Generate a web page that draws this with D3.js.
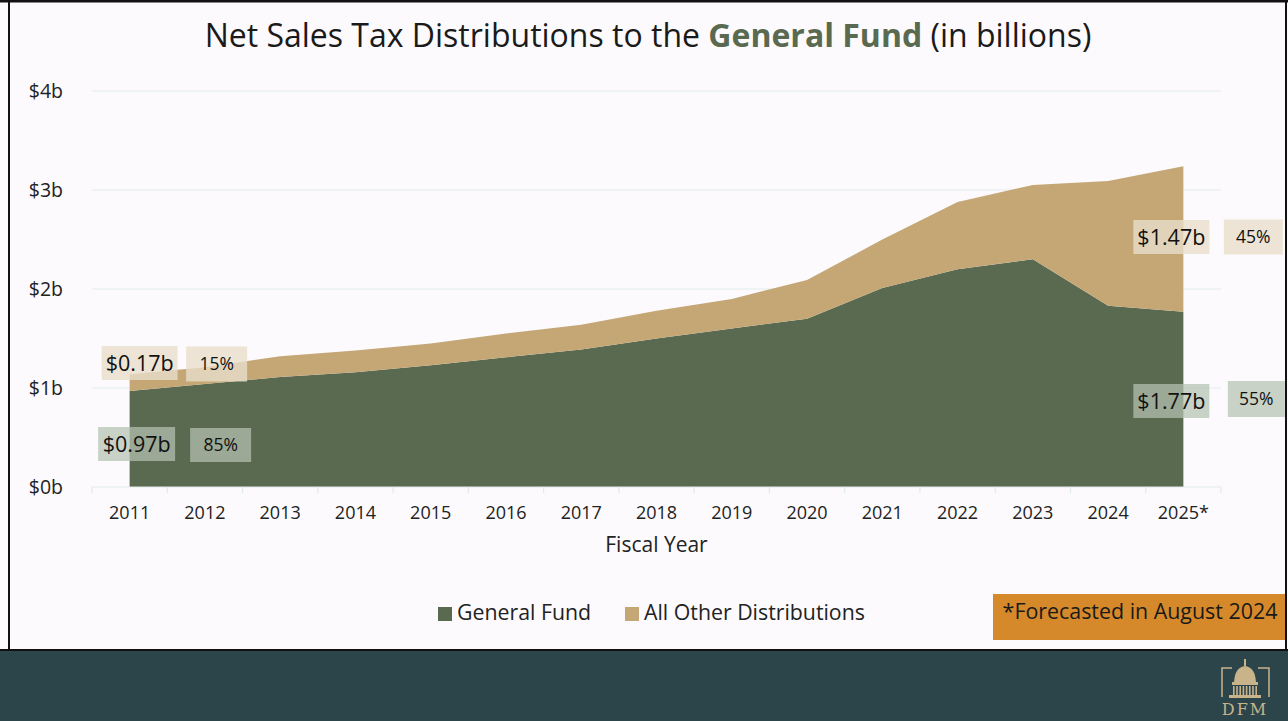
<!DOCTYPE html>
<html>
<head>
<meta charset="utf-8">
<script src="https://cdn.jsdelivr.net/npm/d3@7"></script>
<style>
  html, body { margin: 0; padding: 0; background: #ffffff; }
  svg { display: block; font-family: "Open Sans", "Noto Sans", sans-serif; }
</style>
</head>
<body>
<svg id="chart" width="1288" height="721"></svg>
<script>
// ---- data ----
const years = ["2011","2012","2013","2014","2015","2016","2017","2018","2019","2020","2021","2022","2023","2024","2025*"];
const generalFund = [0.97, 1.04, 1.11, 1.16, 1.23, 1.31, 1.39, 1.50, 1.60, 1.70, 2.01, 2.20, 2.30, 1.83, 1.77];
const otherDist   = [0.17, 0.17, 0.21, 0.22, 0.22, 0.24, 0.25, 0.28, 0.30, 0.39, 0.49, 0.68, 0.75, 1.26, 1.47];
const yTicks = [0, 1, 2, 3, 4];
const yTickLabels = ["$0b", "$1b", "$2b", "$3b", "$4b"];
const seriesNames = ["General Fund", "All Other Distributions"];
const seriesColors = ["#5a6a50", "#c4a775"];
const labelTexts = {
  startOther: "$0.17b", startOtherPct: "15%",
  startGF: "$0.97b", startGFPct: "85%",
  endOther: "$1.47b", endOtherPct: "45%",
  endGF: "$1.77b", endGFPct: "55%"
};

// ---- layout ----
const W = 1288, H = 721;
const svg = d3.select("#chart");
const plot = { left: 92, right: 1221, top: 91, bottom: 487 };

svg.append("rect").attr("x", 0).attr("y", 0).attr("width", W).attr("height", H).attr("fill", "#fcfafd");

const x = d3.scaleBand().domain(years).range([plot.left, plot.right]).paddingInner(0).paddingOuter(0);
const xc = d => x(d) + x.bandwidth() / 2;
const y = d3.scaleLinear().domain([0, 4]).range([plot.bottom, plot.top]);

// gridlines
svg.append("g").selectAll("line").data(yTicks.filter(t => t > 0)).join("line")
  .attr("x1", plot.left).attr("x2", plot.right)
  .attr("y1", d => y(d)).attr("y2", d => y(d))
  .attr("stroke", "#e1ecec").attr("stroke-width", 1.2);

// stacked areas
const rows = years.map((yr, i) => ({ year: yr, gf: generalFund[i], other: otherDist[i] }));
const stack = d3.stack().keys(["gf", "other"]);
const stacked = stack(rows);
const area = d3.area()
  .x(d => xc(d.data.year))
  .y0(d => y(d[0]))
  .y1(d => y(d[1]))
  .curve(d3.curveLinear);
svg.append("g").selectAll("path").data(stacked).join("path")
  .attr("d", area)
  .attr("fill", (d, i) => seriesColors[i]);

// x axis
const gx = svg.append("g").attr("transform", `translate(0,${plot.bottom})`);
gx.append("line").attr("x1", plot.left).attr("x2", plot.right).attr("y1", 0).attr("y2", 0)
  .attr("stroke", "#dfeaea").attr("stroke-width", 1.2);
const edges = years.map(d => x(d)).concat([plot.right]);
gx.selectAll("line.tk").data(edges).join("line").attr("class", "tk")
  .attr("x1", d => d).attr("x2", d => d).attr("y1", 0).attr("y2", 6)
  .attr("stroke", "#dfeaea").attr("stroke-width", 1.2);
gx.selectAll("text.xl").data(years).join("text").attr("class", "xl")
  .attr("x", d => xc(d)).attr("y", 26).attr("dy", "0.35em")
  .attr("text-anchor", "middle").attr("font-size", 18).attr("fill", "#222")
  .text(d => d);

svg.append("text").attr("x", (plot.left + plot.right) / 2).attr("y", 545).attr("dy", "0.35em")
  .attr("text-anchor", "middle").attr("font-size", 21).attr("fill", "#222").text("Fiscal Year");

// y axis labels
svg.append("g").selectAll("text").data(yTicks).join("text")
  .attr("x", 63).attr("y", d => y(d)).attr("dy", "0.35em")
  .attr("text-anchor", "end").attr("font-size", 19.5).attr("fill", "#222")
  .text((d, i) => yTickLabels[i]);

// title
const title = svg.append("text").attr("x", 648).attr("y", 36).attr("dy", "0.35em")
  .attr("text-anchor", "middle").attr("font-size", 32).attr("fill", "#1a1a1a");
title.append("tspan").text("Net Sales Tax Distributions to the ");
title.append("tspan").attr("font-weight", "bold").attr("fill", "#5a6a50").text("General Fund");
title.append("tspan").text(" (in billions)");

// value label boxes
function labelBox(cx, cy, w, h, txt, kind, fs) {
  const g = svg.append("g");
  g.append("rect").attr("x", cx - w / 2).attr("y", cy - h / 2).attr("width", w).attr("height", h)
    .attr("fill", kind === "other" ? "rgb(232,222,202)" : "rgb(180,194,177)")
    .attr("fill-opacity", kind === "other" ? 0.8 : 0.72);
  g.append("text").attr("x", cx).attr("y", cy).attr("dy", "0.36em")
    .attr("text-anchor", "middle").attr("font-size", fs).attr("fill", "#111").text(txt);
}
const first = years[0], last = years[years.length - 1];
labelBox(xc(first) + 10, 363, 76, 34, labelTexts.startOther, "other", 21.5);
labelBox(xc(first) + 87, 364, 61, 35, labelTexts.startOtherPct, "other", 17.5);
labelBox(xc(first) + 7, 444, 77, 34, labelTexts.startGF, "gf", 21.5);
labelBox(xc(first) + 91, 445, 61, 34, labelTexts.startGFPct, "gf", 17.5);
labelBox(xc(last) - 12, 237, 76, 34, labelTexts.endOther, "other", 21.5);
labelBox(xc(last) + 70, 237, 59, 35, labelTexts.endOtherPct, "other", 17.5);
labelBox(xc(last) - 12, 401, 76, 34, labelTexts.endGF, "gf", 21.5);
labelBox(xc(last) + 73, 399, 57, 36, labelTexts.endGFPct, "gf", 17.5);

// legend
const legend = svg.append("g");
const legX = [438, 625];
seriesNames.forEach((name, i) => {
  legend.append("rect").attr("x", legX[i]).attr("y", 607).attr("width", 14).attr("height", 14).attr("fill", seriesColors[i]);
  legend.append("text").attr("x", legX[i] + 19).attr("y", 613).attr("dy", "0.35em")
    .attr("font-size", 21.3).attr("fill", "#222").text(name);
});

// forecast note
svg.append("rect").attr("x", 993).attr("y", 594).attr("width", 293).attr("height", 46).attr("fill", "#d6892a");
svg.append("text").attr("x", 1140).attr("y", 612).attr("dy", "0.35em").attr("text-anchor", "middle")
  .attr("font-size", 21.4).attr("fill", "#1a1a1a").text("*Forecasted in August 2024");

// footer band
svg.append("rect").attr("x", 0).attr("y", 650).attr("width", W).attr("height", H - 650).attr("fill", "#2c454a");
svg.append("line").attr("x1", 0).attr("x2", W).attr("y1", 650).attr("y2", 650).attr("stroke", "#111").attr("stroke-width", 2);

// frame borders
svg.append("line").attr("x1", 9).attr("x2", 9).attr("y1", 0).attr("y2", 650).attr("stroke", "#111").attr("stroke-width", 2);
svg.append("line").attr("x1", 1286).attr("x2", 1286).attr("y1", 0).attr("y2", 650).attr("stroke", "#111").attr("stroke-width", 2);
svg.append("line").attr("x1", 0).attr("x2", W).attr("y1", 1).attr("y2", 1).attr("stroke", "#111").attr("stroke-width", 3);

// DFM logo
const gold = "#c9b38a";
const logo = svg.append("g").attr("stroke", gold).attr("fill", "none");
logo.append("path").attr("d", "M1232,668 H1222 V697 M1258,668 H1269 V697").attr("stroke-width", 1.5);
const lg = svg.append("g").attr("fill", gold);
lg.append("rect").attr("x", 1244).attr("y", 659).attr("width", 2).attr("height", 7);
lg.append("path").attr("d", "M1234,682 Q1235,667 1245,666 Q1255,667 1256,682 Z");
lg.append("rect").attr("x", 1232).attr("y", 682).attr("width", 26).attr("height", 3);
for (let i = 0; i < 8; i++) {
  lg.append("rect").attr("x", 1233 + i * 3.2).attr("y", 686).attr("width", 1.6).attr("height", 9);
}
lg.append("rect").attr("x", 1229).attr("y", 695).attr("width", 32).attr("height", 3);
svg.append("text").attr("x", 1245).attr("y", 715).attr("text-anchor", "middle")
  .attr("font-family", "'DejaVu Serif', 'Liberation Serif', serif").attr("font-size", 16)
  .attr("letter-spacing", 2).attr("fill", gold).text("DFM");
</script>
</body>
</html>
